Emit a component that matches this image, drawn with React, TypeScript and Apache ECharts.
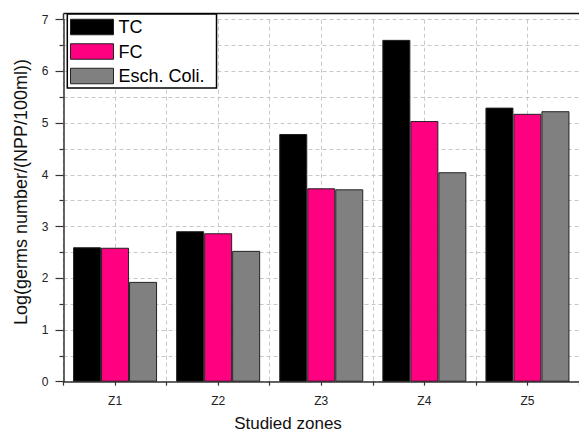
import React, { useEffect, useRef } from "react";
import * as echarts from "echarts";

const categories = ["Z1", "Z2", "Z3", "Z4", "Z5"];
const seriesNames = ["TC", "FC", "Esch. Coli."];
const tcValues = [2.6, 2.91, 4.79, 6.61, 5.3];
const fcValues = [2.59, 2.87, 3.74, 5.04, 5.18];
const ecValues = [1.93, 2.53, 3.72, 4.05, 5.23];
const yTicks = { min: 0, max: 7, interval: 1 };
const xName = "Studied zones";
const yName = "Log(germs number/(NPP/100ml))";

const FONT = 'Arial, "Liberation Sans", sans-serif';
const dash = { type: [4, 3] as any, color: "#c8c8c8", width: 1 };

export default function App() {
  const ref = useRef<HTMLDivElement>(null);
  useEffect(() => {
    if (!ref.current) return;
    const chart = echarts.init(ref.current, null, { renderer: "svg" });
    const colors = ["#000000", "#ff0080", "#808080"];
    const values = [tcValues, fcValues, ecValues];
    chart.setOption({
      animation: false,
      backgroundColor: "#ffffff",
      textStyle: { fontFamily: FONT },
      grid: { left: 63.5, top: 19.7, width: 526, height: 362 },
      legend: {
        left: 67.3,
        top: 14,
        orient: "vertical",
        icon: "rect",
        backgroundColor: "#ffffff",
        borderColor: "#000",
        borderWidth: 1.5,
        padding: [4, 12, 3, 2.7],
        itemWidth: 43,
        itemHeight: 15.5,
        itemGap: 6.5,
        textStyle: { fontSize: 18, color: "#000", fontFamily: FONT, lineHeight: 16, padding: [0, 0, 0, 0] },
        data: seriesNames.map((name) => ({ name, itemStyle: { borderColor: "#222", borderWidth: 1 } })),
      },
      xAxis: [
        {
          type: "category",
          data: categories,
          axisLine: { lineStyle: { color: "#333", width: 1.5 } },
          axisTick: { alignWithLabel: true, length: 7, lineStyle: { color: "#333", width: 1.2 } },
          axisLabel: { margin: 13, fontSize: 12, color: "#222", fontFamily: FONT },
          splitLine: { show: false },
        },
        {
          type: "value",
          min: 0,
          max: 5,
          interval: 0.5,
          position: "bottom",
          axisLine: { show: false },
          axisTick: { show: true, length: 4, lineStyle: { color: "#333", width: 1.2 } },
          axisLabel: { show: false },
          splitLine: { show: true, lineStyle: dash },
        },
      ],
      yAxis: {
        type: "value",
        min: yTicks.min,
        max: yTicks.max,
        interval: yTicks.interval,
        axisLine: { show: true, lineStyle: { color: "#333", width: 1.5 } },
        axisTick: { show: true, length: 8, lineStyle: { color: "#333", width: 1.2 } },
        minorTick: { show: true, splitNumber: 2, length: 4, lineStyle: { color: "#333", width: 1.2 } },
        splitLine: { show: true, lineStyle: dash },
        minorSplitLine: { show: true, lineStyle: dash },
        axisLabel: { margin: 15, fontSize: 12, color: "#222", fontFamily: FONT },
      },
      series: seriesNames.map((name, i) => ({
        name,
        type: "bar",
        xAxisIndex: 0,
        data: values[i],
        barWidth: 28,
        barGap: "0%",
        itemStyle: { color: colors[i], borderColor: "#222", borderWidth: 1 },
      })),
      graphic: [
        { type: "line", shape: { x1: 63.5, y1: 13.5, x2: 579, y2: 13.5 }, style: { stroke: "#111", lineWidth: 1.5 } },
        { type: "line", shape: { x1: 63.5, y1: 13.5, x2: 63.5, y2: 20 }, style: { stroke: "#333", lineWidth: 1.5 } },
        {
          type: "text",
          x: 21,
          y: 192,
          rotation: Math.PI / 2,
          style: { text: yName, font: `18px ${FONT}`, fill: "#111", textAlign: "center", textVerticalAlign: "middle" },
        },
        {
          type: "text",
          x: 288,
          y: 423,
          style: { text: xName, font: `17px ${FONT}`, fill: "#111", textAlign: "center", textVerticalAlign: "middle" },
        },
      ],
    });
    return () => chart.dispose();
  }, []);
  return <div ref={ref} style={{ position: "absolute", left: 0, top: 0, width: 579, height: 432 }} />;
}
